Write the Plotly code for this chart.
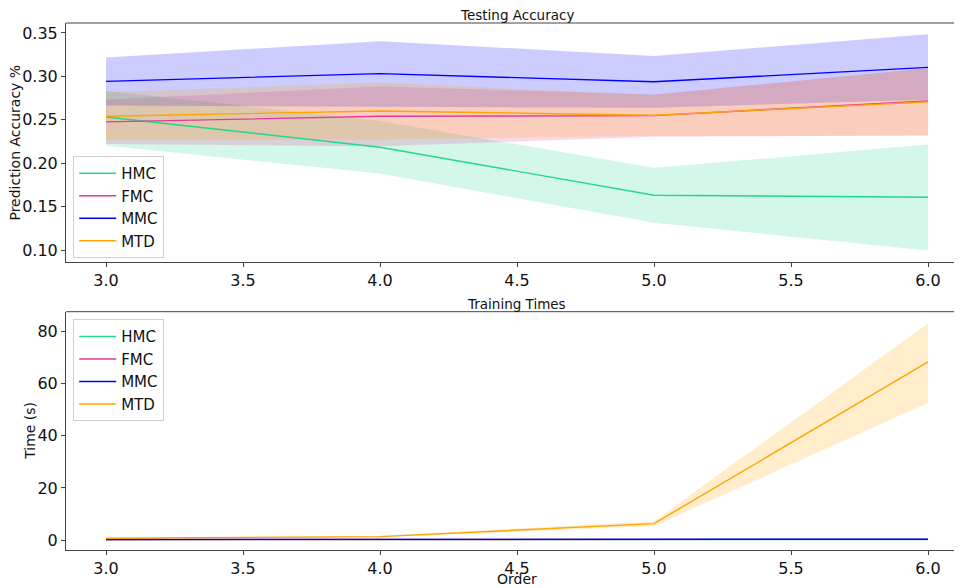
import plotly.graph_objects as go

orders = [3.0, 4.0, 5.0, 6.0]
series_names = ["HMC", "FMC", "MMC", "MTD"]

acc_hmc = [0.2533, 0.2184, 0.1631, 0.1608]
acc_hmc_lo = [0.2203, 0.1881, 0.1314, 0.0995]
acc_hmc_hi = [0.2836, 0.2487, 0.1947, 0.2215]
acc_fmc = [0.2476, 0.2540, 0.2548, 0.2718]
acc_fmc_lo = [0.2220, 0.2196, 0.2305, 0.2320]
acc_fmc_hi = [0.2733, 0.2884, 0.2790, 0.3095]
acc_mmc = [0.2943, 0.3032, 0.2938, 0.3104]
acc_mmc_lo = [0.2665, 0.2650, 0.2640, 0.2730]
acc_mmc_hi = [0.3219, 0.3405, 0.3235, 0.3484]
acc_mtd = [0.2540, 0.2602, 0.2552, 0.2706]
acc_mtd_lo = [0.2264, 0.2272, 0.2315, 0.2318]
acc_mtd_hi = [0.2816, 0.2930, 0.2785, 0.3092]

t_hmc = [0.15, 0.18, 0.20, 0.22]
t_hmc_lo = [0.12, 0.15, 0.17, 0.19]
t_hmc_hi = [0.18, 0.21, 0.23, 0.25]
t_fmc = [0.17, 0.20, 0.22, 0.25]
t_fmc_lo = [0.14, 0.17, 0.19, 0.22]
t_fmc_hi = [0.20, 0.23, 0.25, 0.28]
t_mmc = [0.22, 0.25, 0.28, 0.30]
t_mmc_lo = [0.19, 0.22, 0.25, 0.27]
t_mmc_hi = [0.25, 0.28, 0.31, 0.33]
t_mtd = [0.65, 1.3, 6.3, 68.4]
t_mtd_lo = [0.35, 1.05, 5.3, 52.7]
t_mtd_hi = [1.05, 1.6, 7.2, 83.2]

x_ticks = [3.0, 3.5, 4.0, 4.5, 5.0, 5.5, 6.0]
acc_ticks = [0.10, 0.15, 0.20, 0.25, 0.30, 0.35]
time_ticks = [0, 20, 40, 60, 80]

colors = {"HMC": (35, 215, 140), "FMC": (230, 57, 155), "MMC": (0, 0, 255), "MTD": (255, 165, 0)}

acc = {"HMC": (acc_hmc, acc_hmc_lo, acc_hmc_hi), "FMC": (acc_fmc, acc_fmc_lo, acc_fmc_hi),
       "MMC": (acc_mmc, acc_mmc_lo, acc_mmc_hi), "MTD": (acc_mtd, acc_mtd_lo, acc_mtd_hi)}
tim = {"HMC": (t_hmc, t_hmc_lo, t_hmc_hi), "FMC": (t_fmc, t_fmc_lo, t_fmc_hi),
       "MMC": (t_mmc, t_mmc_lo, t_mmc_hi), "MTD": (t_mtd, t_mtd_lo, t_mtd_hi)}

fig = go.Figure()

def rgb(c, a=1.0):
    return f"rgba({c[0]},{c[1]},{c[2]},{a})"

for data, xa, ya, lg in [(acc, "x", "y", "legend"), (tim, "x2", "y2", "legend2")]:
    for name in series_names:
        m, lo, hi = data[name]
        fig.add_trace(go.Scatter(x=orders + orders[::-1], y=hi + lo[::-1], fill="toself",
                                 fillcolor=rgb(colors[name], 0.2), line=dict(width=0),
                                 mode="lines", showlegend=False, hoverinfo="skip",
                                 xaxis=xa, yaxis=ya))
    for name in series_names:
        m, lo, hi = data[name]
        fig.add_trace(go.Scatter(x=orders, y=m, mode="lines", name=name,
                                 line=dict(color=rgb(colors[name]), width=1.4),
                                 xaxis=xa, yaxis=ya, legend=lg))

axis_common = dict(showline=True, linecolor="#444", linewidth=1, ticks="outside",
                   ticklen=4, tickcolor="#444", showgrid=False, zeroline=False,
                   automargin=False,
                   tickfont=dict(family="DejaVu Sans", size=16, color="#111"))
xrange = [2.854, 6.124]
top_dom = [0.5465, 1.0]
bot_dom = [0.0, 0.4522]

fig.update_layout(
    width=954, height=580,
    margin=dict(l=58, r=0, t=15, b=38, autoexpand=False),
    plot_bgcolor="white", paper_bgcolor="white",
    font=dict(family="DejaVu Sans", color="#111"),
    xaxis=dict(domain=[0, 1], range=xrange, tickvals=x_ticks, tickformat=".1f",
               anchor="y", **axis_common),
    yaxis=dict(domain=top_dom, range=[0.0862, 0.3615], tickvals=acc_ticks, tickformat=".2f",
               anchor="x", **axis_common),
    xaxis2=dict(domain=[0, 1], range=xrange, tickvals=x_ticks, tickformat=".1f", anchor="y2",
                **axis_common),
    yaxis2=dict(domain=bot_dom, range=[-3.84, 87.7], tickvals=time_ticks, anchor="x2",
                **axis_common),
    legend=dict(x=0.008, y=0.554, xanchor="left", yanchor="bottom",
                bgcolor="rgba(255,255,255,0.8)", bordercolor="#d0d0d0", borderwidth=1,
                font=dict(size=15), tracegroupgap=0, itemwidth=37),
    legend2=dict(x=0.008, y=0.4378, xanchor="left", yanchor="top",
                 bgcolor="rgba(255,255,255,0.8)", bordercolor="#d0d0d0", borderwidth=1,
                 font=dict(size=15), tracegroupgap=0, itemwidth=37),
    annotations=[
        dict(text="Testing Accuracy", x=0.503, y=1.0, xref="paper", yref="paper",
             xanchor="center", yanchor="middle", yshift=8, showarrow=False,
             font=dict(size=13.5)),
        dict(text="Training Times", x=0.503, y=0.4522, xref="paper", yref="paper",
             xanchor="center", yanchor="middle", yshift=8, showarrow=False,
             font=dict(size=13.5)),
        dict(text="Prediction Accuracy %", x=0, y=0.7732, xref="paper", yref="paper",
             xanchor="center", yanchor="middle", xshift=-51, textangle=-90,
             showarrow=False, font=dict(size=14)),
        dict(text="Time (s)", x=0, y=0.2261, xref="paper", yref="paper",
             xanchor="center", yanchor="middle", xshift=-36, textangle=-90,
             showarrow=False, font=dict(size=14)),
        dict(text="Order", x=0.503, y=0, xref="paper", yref="paper",
             xanchor="center", yanchor="middle", yshift=-29, showarrow=False,
             font=dict(size=14)),
    ],
    shapes=[
        dict(type="line", xref="paper", yref="paper", x0=0, x1=1, y0=1.0, y1=1.0,
             line=dict(color="#444", width=1)),
        dict(type="line", xref="paper", yref="paper", x0=0, x1=1, y0=0.4522, y1=0.4522,
             line=dict(color="#444", width=1)),
    ],
)

fig.write_html("out.html")
